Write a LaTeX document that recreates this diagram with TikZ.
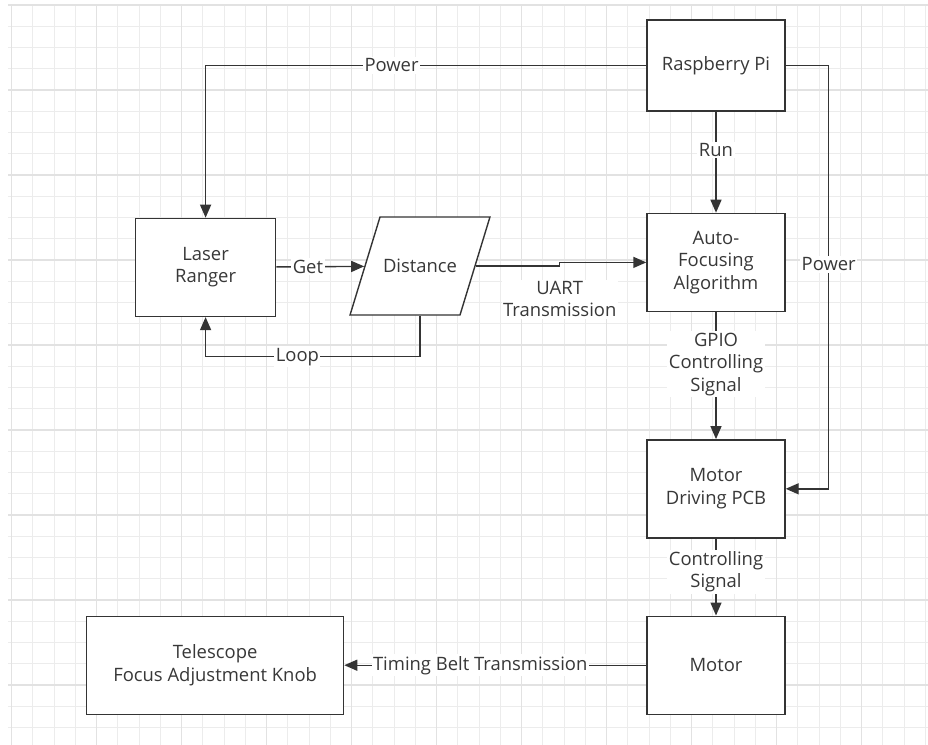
\documentclass[tikz,border=0pt]{standalone}
\usepackage{fontspec}
\setmainfont{Open Sans}
\usetikzlibrary{shapes.geometric, arrows.meta, positioning, calc}
\definecolor{linegray}{RGB}{52, 52, 52}
\definecolor{textgray}{RGB}{56, 56, 56}
\definecolor{gridminor}{RGB}{236, 236, 236}
\definecolor{gridmajor}{RGB}{226, 226, 226}

\begin{document}
\begin{tikzpicture}[
    x=1bp, y=-1bp,
    % Global styles
    font=\fontsize{18.5}{22.5}\selectfont,
    % Box styles
    block/.style={
        rectangle,
        minimum width=138bp,
        minimum height=98bp,
        align=center,
        draw=linegray,
        fill=white,
        text=textgray,
        line width=1.4bp
    },
    data/.style={
        trapezium,
        trapezium left angle=73,
        trapezium right angle=107,
        text width=74bp,
        text height=13bp,
        text depth=0bp,
        inner xsep=3bp,
        inner ysep=42.5bp,
        align=center,
        draw=linegray,
        fill=white,
        text=textgray,
        line width=1.4bp
    },
    arrow/.style={
        line width=1.4bp,
        -{Triangle[length=13bp, width=11bp]},
        color=linegray
    },
    label/.style={
        fill=white,
        inner sep=1.5bp,
        align=center,
        text=textgray
    }
]

\useasboundingbox (0,0) rectangle (928,745);

% --- Grid background ---
\foreach \i in {0,...,43} {
    \pgfmathsetmacro{\gx}{11.7+21.25*\i}
    \draw[gridminor, line width=1bp] (\gx,5) -- (\gx,745);
}
\foreach \i in {0,...,34} {
    \pgfmathsetmacro{\gy}{5+21.25*\i}
    \draw[gridminor, line width=1bp] (8,\gy) -- (928,\gy);
}
\foreach \i in {0,4,...,40} {
    \pgfmathsetmacro{\gx}{11.7+21.25*\i}
    \draw[gridmajor, line width=1.2bp] (\gx,5) -- (\gx,745);
}
\foreach \i in {0,4,...,32} {
    \pgfmathsetmacro{\gy}{5+21.25*\i}
    \draw[gridmajor, line width=1.2bp] (8,\gy) -- (928,\gy);
}

% --- Nodes ---

% Controller column
\node (raspi) [block, minimum height=91bp] at (716,65.5) {Raspberry Pi};
\node (autofocus) [block, below=101bp of raspi] {Auto-\\Focusing\\Algorithm};
\node (driver) [block, below=127bp of autofocus] {Motor\\Driving PCB};
\node (motor) [block, below=77bp of driver] {Motor};

% Ranging part
\node (ranger) [block, minimum width=140bp, left=370bp of autofocus, yshift=-5bp] {Laser\\Ranger};
\node (distance) [data] at (420,266) {Distance};

% Output
\node (knob) [block, minimum width=257bp, left=302bp of motor] {Telescope\\Focus Adjustment Knob};

% --- Edges ---

% Power lines
\draw [arrow] (raspi.west) -| (ranger.north) node[label, pos=0.289] {Power};
\draw [arrow] (raspi.east) -- ++(43,0) |- (driver.east) node[label, pos=0.235] {Power};

% Ranging loop
\draw [arrow] (ranger) -- (distance) node[label, pos=0.36] {Get};
\draw [arrow] (distance.south) -- ++(0,41) -| (ranger.south) node[label, pos=0.286] {Loop};
\draw [arrow] (distance.east) -- ++(84,0) node[label, below=13bp] {UART\\Transmission} |- (autofocus.west);

% Control chain
\draw [arrow] (raspi) -- (autofocus) node[label, pos=0.38] {Run};
\draw [arrow] (autofocus) -- (driver) node[label, pos=0.41] {GPIO\\Controlling\\Signal};
\draw [arrow] (driver) -- (motor) node[label, pos=0.43] {Controlling\\Signal};
\draw [arrow] (motor) -- (knob) node[label, pos=0.55] {Timing Belt Transmission};

\end{tikzpicture}
\end{document}
